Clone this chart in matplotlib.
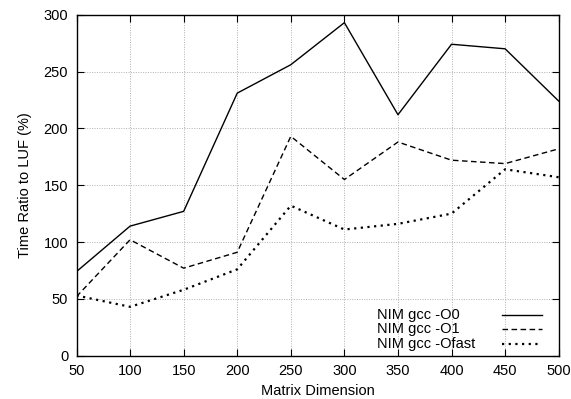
import matplotlib
matplotlib.use("Agg")
import matplotlib.pyplot as plt

plt.rcParams["font.family"] = ["Liberation Sans", "DejaVu Sans"]

dims = [50, 100, 150, 200, 250, 300, 350, 400, 450, 500]
o0 = [74, 114, 127, 231, 256, 293, 212, 274, 270, 224]
o1 = [52, 102, 77, 91, 193, 155, 188, 172, 169, 182]
ofast = [53, 43, 58, 76, 132, 111, 116, 125, 164, 157]
labels = ["NIM gcc -O0", "NIM gcc -O1", "NIM gcc -Ofast"]

fig = plt.figure(figsize=(5.71, 3.99), dpi=100)
ax = fig.add_axes([76.5 / 571, 1 - 355.7 / 399, 482.2 / 571, 341 / 399])

styles = [dict(lw=1.0, ls="-"), dict(lw=1.0, ls=(0, (4, 2.5))),
          dict(lw=1.6, ls=(0, (1, 2)))]
for ys, st in zip([o0, o1, ofast], styles):
    ax.plot(dims, ys, color="black", **st)

ax.set_xlim(50, 500)
ax.set_ylim(0, 300)
ax.set_xticks(dims)
ax.set_yticks(range(0, 301, 50))
ax.grid(True, color="#b0b0b0", ls=(0, (1, 1.5)), lw=0.7)
ax.tick_params(direction="in", top=True, right=True, length=5, width=0.8,
               labelsize=10.5, pad=6)
for s in ax.spines.values():
    s.set_linewidth(1.0)

ax.set_xlabel("Matrix Dimension", fontsize=10.5, labelpad=4)
ax.set_ylabel("Time Ratio to LUF (%)", fontsize=10.5, labelpad=8)

# gnuplot-style key: labels left-aligned, samples on the right
key_rows = [0.118, 0.077, 0.035]
for lab, st, yk in zip(labels, styles, key_rows):
    ax.text(0.623, yk, lab, transform=ax.transAxes, fontsize=10.5,
            va="center", ha="left")
    ax.plot([0.882, 0.965], [yk, yk], transform=ax.transAxes, color="black",
            clip_on=False, **st)

fig.savefig("out.png", dpi=100)
